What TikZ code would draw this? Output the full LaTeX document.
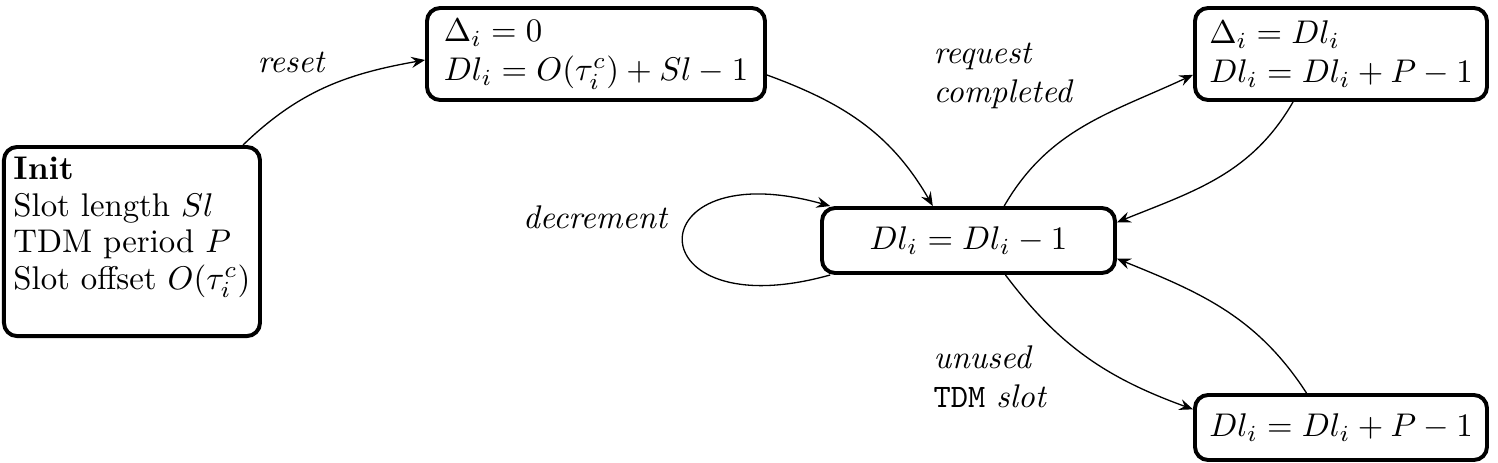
\documentclass[tikz,border=0pt]{standalone}
\usetikzlibrary{arrows.meta}
\newdimen\pxu \pxu=0.3049pt
\begin{document}
\begin{tikzpicture}[x=0.3049pt,y=0.3049pt,
  state/.style={draw, line width=1.2pt, rounded corners=4pt, align=left, inner sep=0pt},
  lbl/.style={inner sep=0pt, align=left, font=\itshape},
  edge/.style={-{Stealth[length=4.2pt,width=3.4pt,inset=1.5pt]}, line width=0.4pt},
]
\useasboundingbox (0,0) rectangle (1498,-462);
% states
\node[draw, line width=1.2pt, rounded corners=4pt, align=left, anchor=north west,
      inner xsep=2.2pt, inner ysep=3.2pt,
      minimum width=256*\pxu, font=\fontsize{10}{11.1}\selectfont] (init) at (2,-145)
  {\textbf{Init}\\ Slot length $Sl$\\ TDM period $P$\\ Slot offset $O(\tau_i^c)$\\ \mbox{}};
\node[state, minimum width=338*\pxu, minimum height=92*\pxu] (s0) at (596,-54)
  {$\Delta_i = 0$\\ $Dl_i = O(\tau_i^c) + Sl - 1$};
\node[state, minimum width=293*\pxu, minimum height=65*\pxu] (s1) at (968.5,-240.5)
  {$Dl_i = Dl_i - 1$};
\node[state, minimum width=292*\pxu, minimum height=92*\pxu] (s2) at (1341,-54)
  {$\Delta_i = Dl_i$\\ $Dl_i = Dl_i + P - 1$};
\node[state, minimum width=292*\pxu, minimum height=65*\pxu] (s3) at (1341,-427.5)
  {$Dl_i = Dl_i + P - 1$};
% labels
\node[lbl, anchor=base] (lreset) at (291,-72) {reset};
\node[lbl, anchor=base] (ldec) at (595,-228) {decrement};
\node[lbl, anchor=north west] (lreq) at (933,-42) {request\\ completed};
\node[lbl, anchor=north west] (lunused) at (933,-345) {unused\\ \upshape\texttt{TDM} \itshape slot};
% edges
\draw[edge] (init.41) to[out=44, in=190] (s0.182);
\draw[edge] (s0.-7) to[out=-20, in=120] (s1.136);
\draw[edge] (s1.44) to[out=60, in=205] (s2.188);
\draw[edge] (s2.225) to[out=240, in=22] (s1.7);
\draw[edge] (s1.-43) to[out=-53, in=160] (s3.173);
\draw[edge] (s3.135) to[out=123, in=-22] (s1.-7);
\draw[edge] (s1.194) .. controls +(-196,-55) and +(-196,55) .. (s1.166);
\end{tikzpicture}
\end{document}
